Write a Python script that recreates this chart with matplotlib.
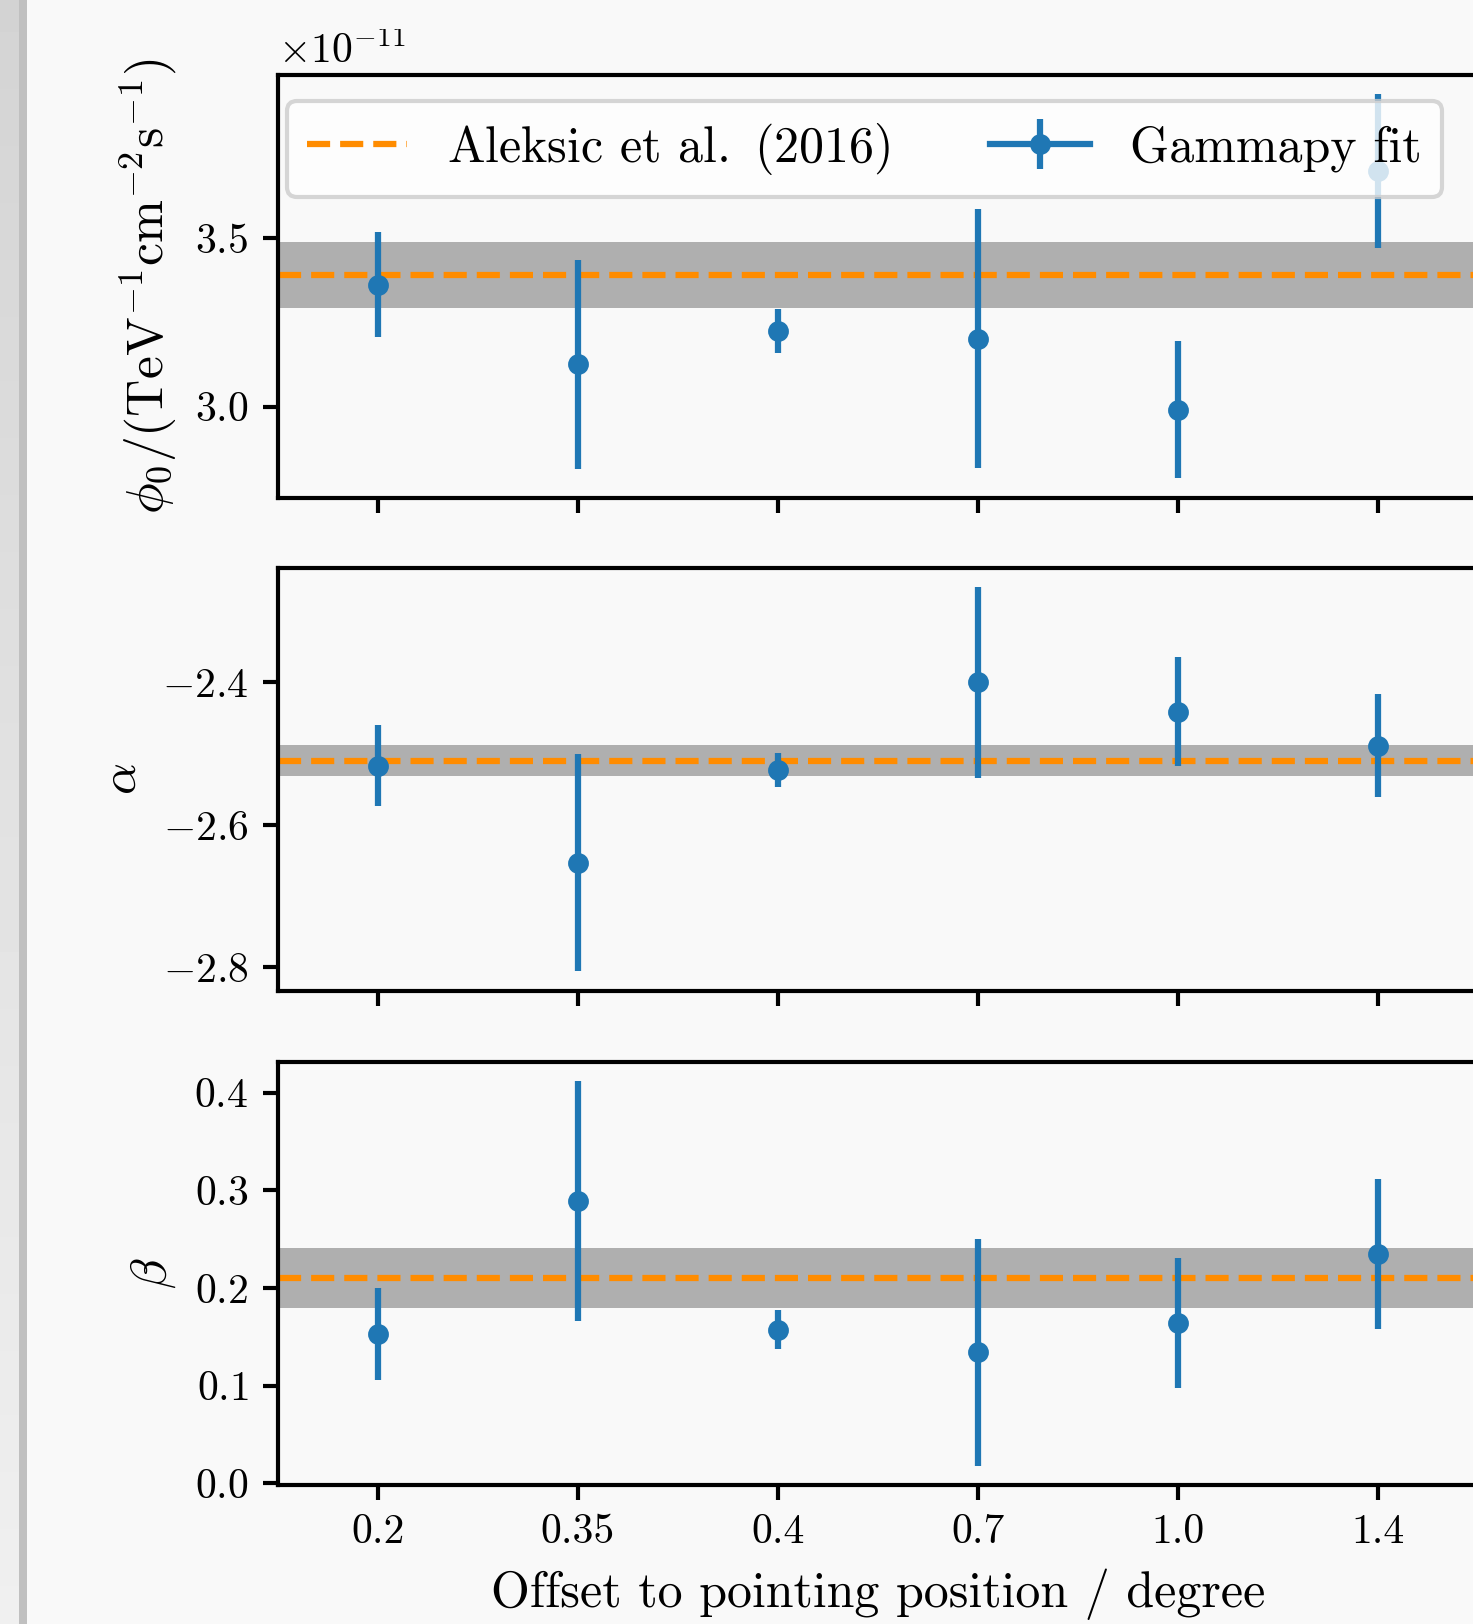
import matplotlib
matplotlib.use('Agg')
import matplotlib.pyplot as plt
import numpy as np
from matplotlib.patches import Rectangle

plt.rcParams['font.family'] = ['cmr10']
plt.rcParams['mathtext.fontset'] = 'cm'
plt.rcParams['axes.formatter.use_mathtext'] = True
plt.rcParams['axes.unicode_minus'] = True
plt.rcParams['axes.linewidth'] = 1.0
plt.rcParams['xtick.major.width'] = 1.0
plt.rcParams['ytick.major.width'] = 1.0

# ---------------- data ----------------
offsets = ['0.2', '0.35', '0.4', '0.7', '1.0', '1.4']

phi0 = [3.362, 3.126, 3.224, 3.202, 2.991, 3.699]          # x 1e-11
phi0_err = [0.155, 0.310, 0.066, 0.383, 0.204, 0.229]      # x 1e-11
alpha = [-2.517, -2.653, -2.523, -2.400, -2.441, -2.489]
alpha_err = [0.057, 0.153, 0.024, 0.134, 0.076, 0.072]
beta = [0.153, 0.289, 0.157, 0.134, 0.164, 0.235]
beta_err = [0.047, 0.123, 0.020, 0.116, 0.067, 0.077]

ref_phi0, ref_phi0_err = 3.39, 0.097      # x 1e-11
ref_alpha, ref_alpha_err = -2.51, 0.022
ref_beta, ref_beta_err = 0.21, 0.031

ref_label = r'Aleksic et al. $\,$(2016)'
fit_label = 'Gammapy fit'
ylabels = [r'$\phi_0/(\mathrm{TeV}^{-1}\mathrm{cm}^{-2}\mathrm{s}^{-1})$',
           r'$\alpha$', r'$\beta$']
xlabel = 'Offset to pointing position / degree'

W, H, DPI = 1473, 1624, 300
BG = '#f9f9f9'
BLUE = '#1f77b4'
ORANGE = 'darkorange'
BAND = '#afafaf'

fig = plt.figure(figsize=(W / DPI, H / DPI), dpi=DPI, facecolor=BG)

left = 277.6 / W
width = (1477.8 - 277.6) / W
tops = [74.6, 567.7, 1061.8]
hgt = 423.0

axes = []
for i, t in enumerate(tops):
    pos = [left, 1 - (t + hgt) / H, width, hgt / H]
    if i == 0:
        ax = fig.add_axes(pos)
    else:
        ax = fig.add_axes(pos, sharex=axes[0])
    ax.set_facecolor(BG)
    axes.append(ax)

x = np.arange(len(offsets))
series = [
    (np.array(phi0) * 1e-11, np.array(phi0_err) * 1e-11, ref_phi0 * 1e-11, ref_phi0_err * 1e-11),
    (np.array(alpha), np.array(alpha_err), ref_alpha, ref_alpha_err),
    (np.array(beta), np.array(beta_err), ref_beta, ref_beta_err),
]
label_sizes = [12.4, 12, 12]

for i, (ax, (vals, errs, ref, referr)) in enumerate(zip(axes, series)):
    ax.axhspan(ref - referr, ref + referr, color=BAND, lw=0, zorder=1)
    ax.axhline(ref, color=ORANGE, ls='--', lw=1.5, label=ref_label, zorder=2)
    for j in range(len(x)):
        ax.errorbar([x[j]], [vals[j]], yerr=[errs[j]], fmt='o-', color=BLUE,
                    ms=4, lw=1.5, label=fit_label if j == 0 else None, zorder=3)
    ax.set_ylabel(ylabels[i], fontsize=label_sizes[i])
    ax.tick_params(labelsize=10)
    if i < 2:
        ax.tick_params(labelbottom=False)

axes[0].set_xlim(-0.5, len(offsets) - 0.5)
axes[0].set_xticks(x)
axes[2].set_xticklabels(offsets)
axes[2].set_xlabel(xlabel, fontsize=12)

axes[0].set_yticks([3.0e-11, 3.5e-11])
axes[1].set_yticks([-2.8, -2.6, -2.4])
axes[2].set_yticks([0.0, 0.1, 0.2, 0.3, 0.4])

axes[0].legend(loc='upper left', bbox_to_anchor=(0.0078, 0.9387),
               borderaxespad=0, ncol=2, fontsize=12)

# page decorations (cropped screenshot look)
fig.patches.append(Rectangle((0, 1 - 29 / H), 1, 29 / H, transform=fig.transFigure,
                             facecolor=BG, edgecolor='none', zorder=50))
gax = fig.add_axes([0, 0, 19 / W, 1], zorder=60)
grad = np.linspace(0.83, 0.94, 256).reshape(-1, 1)
gax.imshow(grad, cmap='gray', vmin=0, vmax=1, aspect='auto', extent=[0, 1, 0, 1])
gax.set_axis_off()
fig.patches.append(Rectangle((19 / W, 0), 8 / W, 1, transform=fig.transFigure,
                             facecolor='#c0c0c0', edgecolor='none', zorder=61))

fig.savefig('out.png', dpi=DPI, facecolor=BG)
